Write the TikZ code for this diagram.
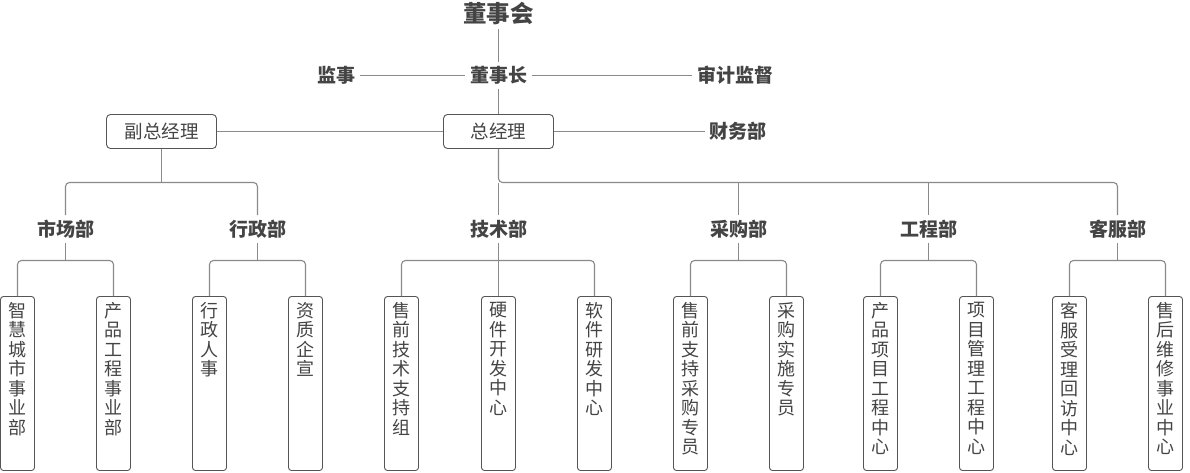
\documentclass[tikz,border=0pt]{standalone}
\usepackage{fontspec}
\setmainfont{Noto Sans CJK SC}
\definecolor{linegray}{HTML}{8A8A8A}
\definecolor{boxgray}{HTML}{555555}
\definecolor{txtgray}{HTML}{444444}
\begin{document}
\begin{tikzpicture}[x=1pt,y=-1pt,
  conn/.style={draw=linegray, line width=1.1pt},
  lbl/.style={font=\fontsize{19}{21}\selectfont\bfseries, text=txtgray, inner sep=4.5pt},
  hbox/.style={draw=boxgray, line width=0.9pt, rounded corners=4pt, minimum width=110pt, minimum height=34pt, inner sep=0pt, font=\fontsize{18.5}{20}\selectfont, text=txtgray},
  vbox/.style={draw=boxgray, line width=0.9pt, rounded corners=3pt, minimum width=34pt, minimum height=174pt, inner sep=0pt},
  vtxt/.style={font=\fontsize{18}{19.5}\selectfont, text=txtgray, align=center, anchor=north, inner sep=0pt}]
\useasboundingbox (0,0) rectangle (1190,472);
% top level
\node[lbl, font=\fontsize{23.5}{25}\selectfont\bfseries] (bod) at (498.5,13.5) {董事会};
\node[lbl] (chair) at (498.5,75.5) {董事长};
\node[lbl] (sup) at (336,75.5) {监事};
\node[lbl] (audit) at (735,75.5) {审计监督};
\node[hbox] (gm) at (498.5,131.5) {总经理};
\node[hbox] (vgm) at (161.5,131.5) {副总经理};
\node[lbl] (fin) at (738,131.5) {财务部};
\draw[conn] (bod) -- (chair);
\draw[conn] (sup) -- (chair);
\draw[conn] (chair) -- (audit);
\draw[conn] (chair) -- (gm);
\draw[conn] (vgm) -- (gm);
\draw[conn] (gm) -- (fin);
% departments
\node[lbl] (mkt) at (65.5,229) {市场部};
\node[lbl] (adm) at (257.5,229) {行政部};
\node[lbl] (tech) at (498.5,229) {技术部};
\node[lbl] (pur) at (738.5,229) {采购部};
\node[lbl] (eng) at (928.5,229) {工程部};
\node[lbl] (svc) at (1117.5,229) {客服部};
\coordinate (top1) at (0,182.5);
\draw[conn] (vgm.south) -- (vgm.south |- top1);
\draw[conn, rounded corners=4pt] (mkt.north) |- (vgm.south |- top1) -| (adm.north);
\draw[conn, rounded corners=4pt] (gm.south) -- (gm.south |- top1) -| (svc.north);
\draw[conn] (tech.north) -- (gm.south |- top1);
\draw[conn] (pur.north) -- (pur.north |- top1);
\draw[conn] (eng.north) -- (eng.north |- top1);
% leaf boxes
\foreach \n/\x/\t in {
  a1/17.5/{智\\慧\\城\\市\\事\\业\\部},
  a2/113.5/{产\\品\\工\\程\\事\\业\\部},
  b1/209.5/{行\\政\\人\\事},
  b2/305.5/{资\\质\\企\\宣},
  c1/401.5/{售\\前\\技\\术\\支\\持\\组},
  c2/498.5/{硬\\件\\开\\发\\中\\心},
  c3/594.5/{软\\件\\研\\发\\中\\心},
  d1/690.5/{售\\前\\支\\持\\采\\购\\专\\员},
  d2/786.5/{采\\购\\实\\施\\专\\员},
  e1/880.5/{产\\品\\项\\目\\工\\程\\中\\心},
  e2/976.5/{项\\目\\管\\理\\工\\程\\中\\心},
  f1/1069.5/{客\\服\\受\\理\\回\\访\\中\\心},
  f2/1165.5/{售\\后\\维\\修\\事\\业\\中\\心}}{
  \node[vbox] (\n) at (\x,383.5) {};
  \node[vtxt] (\n t) at ([yshift=-6pt]\n.north) {\t};
}
\coordinate (top2) at (0,260.5);
\draw[conn] (mkt.south) -- (mkt.south |- top2);
\draw[conn, rounded corners=4pt] (a1.north) |- (mkt.south |- top2) -| (a2.north);
\draw[conn] (adm.south) -- (adm.south |- top2);
\draw[conn, rounded corners=4pt] (b1.north) |- (adm.south |- top2) -| (b2.north);
\draw[conn] (tech.south) -- (c2.north);
\draw[conn, rounded corners=4pt] (c1.north) |- (tech.south |- top2) -| (c3.north);
\draw[conn] (pur.south) -- (pur.south |- top2);
\draw[conn, rounded corners=4pt] (d1.north) |- (pur.south |- top2) -| (d2.north);
\draw[conn] (eng.south) -- (eng.south |- top2);
\draw[conn, rounded corners=4pt] (e1.north) |- (eng.south |- top2) -| (e2.north);
\draw[conn] (svc.south) -- (svc.south |- top2);
\draw[conn, rounded corners=4pt] (f1.north) |- (svc.south |- top2) -| (f2.north);
\end{tikzpicture}
\end{document}
